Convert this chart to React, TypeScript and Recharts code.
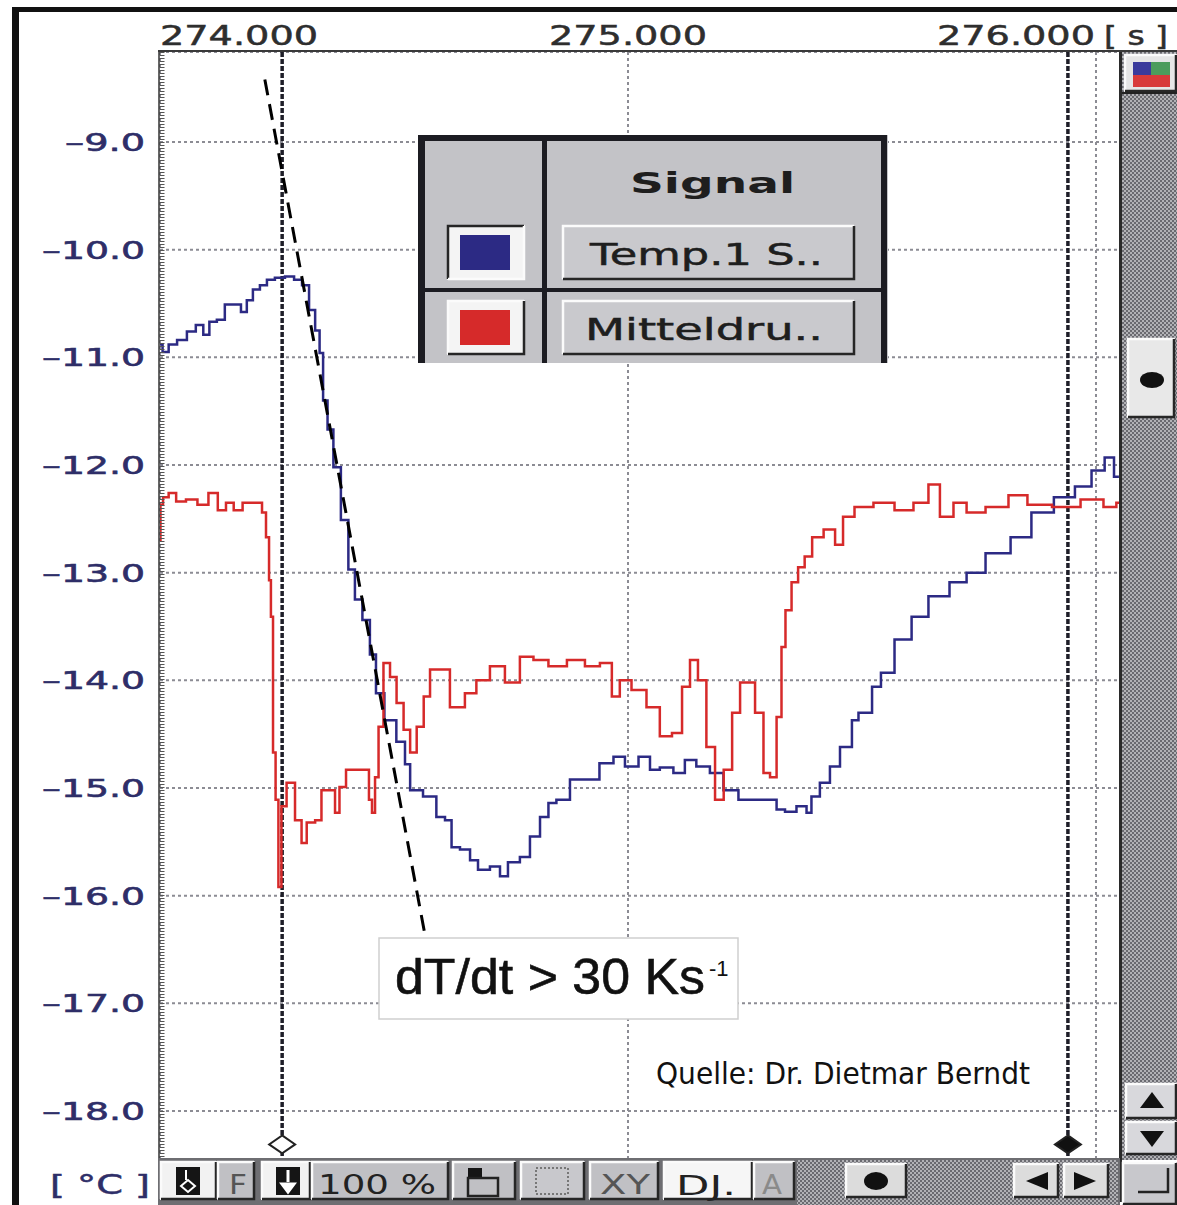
import React from "react";
import {
  LineChart,
  Line,
  XAxis,
  YAxis,
  CartesianGrid,
  ReferenceLine,
  ReferenceDot,
  Legend,
} from "recharts";

// Temp.1 S.. : time [s] / temperature [°C]
const tempTime = [
  274.0, 274.011, 274.026, 274.047, 274.068, 274.085, 274.1, 274.111, 274.132, 274.145,
  274.167, 274.179, 274.192, 274.205, 274.222, 274.235, 274.256, 274.278, 274.295, 274.312,
  274.325, 274.338, 274.344, 274.353, 274.363, 274.378, 274.395, 274.41, 274.423, 274.442,
  274.455, 274.468, 274.491, 274.519, 274.528, 274.541, 274.583, 274.598, 274.62, 274.626,
  274.656, 274.669, 274.69, 274.72, 274.733, 274.754, 274.784, 274.797, 274.827, 274.833,
  274.861, 274.891, 274.923, 274.955, 274.983, 275.004, 275.041, 275.053, 275.083, 275.111,
  275.132, 275.16, 275.19, 275.218, 275.254, 275.31, 275.325, 275.346, 275.374, 275.389,
  275.395, 275.425, 275.438, 275.468, 275.489, 275.496, 275.511, 275.532, 275.549, 275.59,
  275.622, 275.662, 275.712, 275.735, 275.793, 275.842, 275.882, 275.938, 275.972, 276.009,
  276.028, 276.049,
];
const tempValue = [
  -10.88, -10.95, -10.88, -10.84, -10.76, -10.7, -10.79, -10.67, -10.65, -10.51,
  -10.51, -10.58, -10.47, -10.37, -10.33, -10.28, -10.26, -10.25, -10.28, -10.33,
  -10.56, -10.75, -10.96, -11.4, -11.67, -12.02, -12.51, -12.97, -13.25, -13.44,
  -13.76, -14.12, -14.37, -14.57, -14.78, -15.02, -15.08, -15.27, -15.3, -15.55,
  -15.57, -15.67, -15.76, -15.73, -15.82, -15.69, -15.64, -15.45, -15.27, -15.14,
  -15.11, -14.92, -14.92, -14.77, -14.71, -14.8, -14.71, -14.83, -14.81, -14.86,
  -14.74, -14.8, -14.86, -15.02, -15.11, -15.11, -15.2, -15.22, -15.17, -15.23,
  -15.08, -14.95, -14.8, -14.62, -14.37, -14.3, -14.3, -14.06, -13.93, -13.62,
  -13.41, -13.22, -13.09, -13.0, -12.82, -12.67, -12.44, -12.3, -12.2, -12.05,
  -11.93, -12.11,
];

// Mitteldruck, plotted on the same scale
const pressTime = [
  274.0, 274.002, 274.011, 274.026, 274.043, 274.068, 274.092, 274.115, 274.132, 274.15,
  274.165, 274.188, 274.214, 274.222, 274.231, 274.235, 274.239, 274.244, 274.25, 274.256,
  274.263, 274.278, 274.299, 274.306, 274.321, 274.342, 274.348, 274.37, 274.378, 274.389,
  274.406, 274.442, 274.451, 274.455, 274.464, 274.47, 274.485, 274.498, 274.513, 274.528,
  274.541, 274.556, 274.571, 274.583, 274.613, 274.626, 274.641, 274.662, 274.69, 274.72,
  274.754, 274.784, 274.812, 274.848, 274.891, 274.925, 274.955, 274.976, 274.989, 275.026,
  275.053, 275.083, 275.105, 275.126, 275.139, 275.16, 275.175, 275.197, 275.212, 275.233,
  275.246, 275.261, 275.282, 275.297, 275.31, 275.325, 275.331, 275.342, 275.357, 275.37,
  275.385, 275.402, 275.434, 275.451, 275.468, 275.5, 275.549, 275.59, 275.63, 275.654,
  275.679, 275.712, 275.735, 275.793, 275.833, 275.874, 275.938, 275.996, 276.036, 276.051,
];
const pressValue = [
  -12.7, -12.37, -12.3, -12.26, -12.34, -12.32, -12.37, -12.26, -12.42, -12.35,
  -12.42, -12.35, -12.35, -12.44, -12.67, -13.07, -13.41, -14.67, -15.11, -15.92,
  -15.17, -14.95, -15.3, -15.51, -15.32, -15.3, -15.02, -15.02, -15.23, -14.99,
  -14.83, -14.83, -15.11, -15.23, -14.9, -14.43, -13.84, -13.97, -14.21, -14.46,
  -14.67, -14.43, -14.15, -13.9, -13.9, -14.25, -14.25, -14.12, -14.0, -13.87,
  -14.02, -13.78, -13.81, -13.87, -13.81, -13.87, -13.84, -14.15, -14.0, -14.09,
  -14.25, -14.52, -14.49, -14.06, -13.81, -14.0, -14.62, -15.11, -14.83, -14.3,
  -14.02, -14.02, -14.3, -14.86, -14.9, -14.34, -13.69, -13.35, -13.09, -12.95,
  -12.85, -12.67, -12.6, -12.74, -12.48, -12.39, -12.35, -12.42, -12.35, -12.18,
  -12.48, -12.35, -12.44, -12.39, -12.28, -12.37, -12.39, -12.32, -12.39, -12.35,
];

const xTicks = [274, 275, 276];
const yTicks = [-9, -10, -11, -12, -13, -14, -15, -16, -17, -18];
const cursorTimes = [274.261, 275.94];
const slopeLine = [
  { x: 274.224, y: -8.42 },
  { x: 274.566, y: -16.36 },
];
const signalNames = ["Temp.1 S..", "Mitteldru.."];
const signalColors = ["#2c2a84", "#d62a2a"];
const slopeLabel = "dT/dt > 30 Ks";
const sourceLabel = "Quelle: Dr. Dietmar Berndt";

const W = 1177;
const H = 1205;
const PIX = "DejaVu Sans, Verdana, sans-serif";

const tempData = tempTime.map((t, i) => ({ t, v: tempValue[i] }));
const pressData = pressTime.map((t, i) => ({ t, v: pressValue[i] }));

function YTick(props: any) {
  const { y, payload } = props;
  const v = payload.value as number;
  const w = Math.abs(v) >= 10 ? 103 : 80;
  return (
    <text
      x={145 - w}
      y={y + 9}
      textLength={w}
      lengthAdjust="spacingAndGlyphs"
      fontSize={25}
      fill="#2e2e68"
      stroke="#2e2e68"
      strokeWidth={0.6}
      fontFamily={PIX}
    >
      {"\u2013" + Math.abs(v).toFixed(1)}
    </text>
  );
}

function XTick(props: any) {
  const { x, payload } = props;
  const v = payload.value as number;
  const w = 158;
  const first = v === xTicks[0];
  const last = v === xTicks[xTicks.length - 1];
  const start = first ? x : last ? x - w - 1 : x - w / 2;
  const style = { fontSize: 27, fill: "#2e2e2e", stroke: "#2e2e2e", strokeWidth: 0.5, fontFamily: PIX };
  return (
    <g>
      <text x={start} y={45} textLength={w} lengthAdjust="spacingAndGlyphs" {...style}>
        {v.toFixed(3)}
      </text>
      {last && (
        <text x={1104} y={45} textLength={64} lengthAdjust="spacingAndGlyphs" {...style}>
          [ s ]
        </text>
      )}
    </g>
  );
}

function Diamond(props: any) {
  const { cx, cy, fill } = props;
  return (
    <path
      d={`M${cx} ${cy - 9} L${cx + 13} ${cy} L${cx} ${cy + 9} L${cx - 13} ${cy} Z`}
      fill={fill}
      stroke="#222"
      strokeWidth={2}
    />
  );
}

function Bevel({ x, y, w, h, fill = "#c6c6ca", inset = false }: any) {
  const hi = inset ? "#262626" : "#fbfbfb";
  const lo = inset ? "#fbfbfb" : "#262626";
  return (
    <g>
      <rect x={x} y={y} width={w} height={h} fill={fill} />
      <path d={`M${x + 1} ${y + h - 1}V${y + 1}H${x + w - 1}`} fill="none" stroke={hi} strokeWidth={2.5} />
      <path d={`M${x + 1} ${y + h - 1}H${x + w - 1}V${y + 1}`} fill="none" stroke={lo} strokeWidth={2.5} />
    </g>
  );
}

// signal table drawn as the chart legend
function SignalTable() {
  return (
    <svg width={470} height={228} style={{ display: "block" }}>
      <rect width={470} height={228} fill="#c3c3c7" />
      <rect x={0} y={0} width={7} height={228} fill="#1c1c22" />
      <rect x={0} y={0} width={469} height={6} fill="#1c1c22" />
      <rect x={463} y={0} width={6} height={228} fill="#1c1c22" />
      <rect x={124} y={0} width={5} height={228} fill="#1c1c22" />
      <rect x={0} y={153} width={469} height={4} fill="#1c1c22" />
      <text x={212} y={58} textLength={165} lengthAdjust="spacingAndGlyphs" fontSize={28} fontWeight="bold" fill="#1e1e1e" fontFamily={PIX}>
        Signal
      </text>
      {signalNames.map((name, i) => {
        const y0 = i === 0 ? 90 : 165;
        return (
          <g key={name}>
            <Bevel x={29} y={y0} w={78} h={55} fill="#f4f4f4" inset={i === 0} />
            <rect x={42} y={y0 + 10} width={50} height={35} fill={signalColors[i]} />
            <Bevel x={144} y={y0} w={293} h={55} fill="#c9c9cd" />
            <text
              x={i === 0 ? 172 : 167}
              y={y0 + 40}
              textLength={i === 0 ? 233 : 238}
              lengthAdjust="spacingAndGlyphs"
              fontSize={30}
              fill="#1e1e1e"
              stroke="#1e1e1e"
              strokeWidth={0.5}
              fontFamily={PIX}
            >
              {name}
            </text>
          </g>
        );
      })}
    </svg>
  );
}

function Chrome() {
  const txt = { fontFamily: PIX, lengthAdjust: "spacingAndGlyphs" } as any;
  return (
    <svg width={W} height={H} style={{ position: "absolute", left: 0, top: 0, pointerEvents: "none" }}>
      <defs>
        <pattern id="chk" width={4} height={4} patternUnits="userSpaceOnUse">
          <rect width={4} height={4} fill="#b2b2b6" />
          <rect width={2} height={2} fill="#6a6a70" />
          <rect x={2} y={2} width={2} height={2} fill="#6a6a70" />
        </pattern>
      </defs>

      {/* window frame */}
      <rect x={12} y={7} width={1165} height={5} fill="#111" />
      <rect x={12} y={7} width={7} height={1198} fill="#111" />
      <line x1={158} y1={51} x2={1177} y2={51} stroke="#3a3a3a" strokeWidth={2} />

      {/* ruler on the left edge of the plot */}
      <line x1={159} y1={52} x2={159} y2={1160} stroke="#333" strokeWidth={1.5} />
      <line x1={162} y1={52} x2={162} y2={1160} stroke="#555" strokeWidth={5} strokeDasharray="1 2" />

      {/* vertical scroll bar */}
      <rect x={1122} y={52} width={55} height={1108} fill="url(#chk)" />
      <rect x={1119} y={52} width={3} height={1150} fill="#2a2a2a" />
      <Bevel x={1124} y={54} w={53} h={38} fill="#e6e6e6" />
      <rect x={1133} y={62} width={18} height={13} fill="#3a3a9c" />
      <rect x={1151} y={62} width={19} height={13} fill="#4c9c5c" />
      <rect x={1133} y={75} width={37} height={12} fill="#d83a3a" />
      <rect x={1122} y={92} width={55} height={2} fill="#222" />
      <Bevel x={1127} y={338} w={48} h={80} fill="#e8e8e8" />
      <ellipse cx={1152} cy={380} rx={12} ry={8} fill="#111" />
      <Bevel x={1125} y={1083} w={52} h={36} fill="#d8d8dc" />
      <path d="M1140 1108 L1152 1092 L1164 1108 Z" fill="#111" />
      <Bevel x={1125} y={1121} w={52} h={34} fill="#d8d8dc" />
      <path d="M1140 1131 L1164 1131 L1152 1147 Z" fill="#111" />

      {/* bottom tool bar */}
      <rect x={158} y={1158} width={962} height={47} fill="#6e6e72" />
      <Bevel x={160} y={1161} w={57} h={39} fill="#f2f2f2" />
      <Bevel x={217} y={1161} w={38} h={39} fill="#c0c0c4" />
      <rect x={176} y={1167} width={24} height={28} fill="#151515" />
      <path d="M186 1170 V1180 M181 1186 L188 1180 L195 1186 L188 1192 Z" stroke="#fff" strokeWidth={2} fill="none" />
      <text {...txt} x={229} y={1194} textLength={18} fontSize={26} fill="#555">F</text>
      <Bevel x={261} y={1161} w={50} h={39} fill="#f2f2f2" />
      <Bevel x={311} y={1161} w={138} h={39} fill="#c0c0c4" />
      <rect x={276} y={1167} width={24} height={28} fill="#151515" />
      <path d="M288 1170 V1182 M282 1184 L294 1184 L288 1192 Z" stroke="#fff" strokeWidth={3} fill="#fff" />
      <text {...txt} x={318} y={1194} textLength={118} fontSize={26} fill="#222">100 %</text>
      <Bevel x={452} y={1161} w={64} h={39} fill="#c0c0c4" />
      <rect x={468} y={1168} width={14} height={10} fill="#151515" />
      <rect x={468} y={1178} width={30} height={18} fill="none" stroke="#222" strokeWidth={2.5} />
      <Bevel x={520} y={1161} w={65} h={39} fill="#c8c8cc" />
      <rect x={536} y={1168} width={32} height={26} fill="none" stroke="#777" strokeWidth={2} strokeDasharray="2 2" />
      <Bevel x={589} y={1161} w={70} h={39} fill="#c0c0c4" />
      <text {...txt} x={600} y={1194} textLength={50} fontSize={26} fill="#555">XY</text>
      <Bevel x={663} y={1161} w={90} h={39} fill="#f6f6f6" />
      <text {...txt} x={676} y={1195} textLength={60} fontSize={26} fill="#222">DJ.</text>
      <Bevel x={753} y={1161} w={42} h={39} fill="#c0c0c4" />
      <text {...txt} x={762} y={1194} textLength={20} fontSize={26} fill="#8a8a8a">A</text>
      <rect x={797} y={1160} width={321} height={45} fill="url(#chk)" />
      <Bevel x={845} y={1163} w={62} h={35} fill="#dcdcdc" />
      <ellipse cx={876} cy={1181} rx={12} ry={9} fill="#111" />
      <Bevel x={1013} y={1163} w={46} h={35} fill="#dcdcdc" />
      <path d="M1026 1181 L1048 1172 L1048 1190 Z" fill="#111" />
      <Bevel x={1063} y={1163} w={46} h={35} fill="#dcdcdc" />
      <path d="M1096 1181 L1074 1172 L1074 1190 Z" fill="#111" />
      <Bevel x={1122} y={1162} w={55} h={43} fill="#c8c8cc" />
      <path d="M1138 1192 H1168 V1168" fill="none" stroke="#222" strokeWidth={2.5} />

      <text {...txt} x={50} y={1194} textLength={100} fontSize={26} fill="#2e2e68" stroke="#2e2e68" strokeWidth={0.5}>[ °C ]</text>

      {/* slope annotation */}
      <rect x={379} y={938} width={359} height={81} fill="#fff" stroke="#cfcfcf" strokeWidth={1.5} />
      <text x={395} y={994} textLength={310} lengthAdjust="spacingAndGlyphs" fontSize={50} fill="#111" stroke="#111" strokeWidth={0.6} fontFamily="Liberation Sans, Arial, sans-serif">
        {slopeLabel}
      </text>
      <text x={709} y={976} fontSize={22} fill="#111" fontFamily="Liberation Sans, Arial, sans-serif">-1</text>

      <text x={656} y={1084} textLength={374} lengthAdjust="spacingAndGlyphs" fontSize={30} fill="#111" fontFamily={PIX}>
        {sourceLabel}
      </text>
    </svg>
  );
}

export default function App() {
  return (
    <div style={{ position: "absolute", left: 0, top: 0, width: W, height: H, background: "#fff", overflow: "hidden" }}>
      <LineChart width={W} height={H} margin={{ top: 12, right: 57, bottom: 45, left: 0 }}>
        <CartesianGrid stroke="#8c8c94" strokeWidth={2} strokeDasharray="3 3" />
        <XAxis
          type="number"
          dataKey="t"
          orientation="top"
          domain={[274, 276.0513]}
          ticks={xTicks}
          height={40}
          axisLine={false}
          tickLine={false}
          tick={<XTick />}
          allowDataOverflow
        />
        <YAxis
          type="number"
          domain={[-18.455, -8.164]}
          ticks={yTicks}
          width={160}
          axisLine={false}
          tickLine={false}
          tick={<YTick />}
          allowDataOverflow
        />
        {cursorTimes.map((c) => (
          <ReferenceLine key={c} x={c} stroke="#1e1e28" strokeWidth={3.5} strokeDasharray="5 2" />
        ))}
        <ReferenceDot x={cursorTimes[0]} y={-18.31} fill="#fff" shape={Diamond} />
        <ReferenceDot x={cursorTimes[1]} y={-18.31} fill="#111" shape={Diamond} />
        {/* sample-and-hold traces */}
        <Line
          data={tempData}
          dataKey="v"
          name={signalNames[0]}
          type="step"
          stroke={signalColors[0]}
          strokeWidth={2.5}
          dot={false}
          isAnimationActive={false}
        />
        <Line
          data={pressData}
          dataKey="v"
          name={signalNames[1]}
          type="step"
          stroke={signalColors[1]}
          strokeWidth={2.5}
          dot={false}
          isAnimationActive={false}
        />
        <ReferenceLine segment={slopeLine} stroke="#000" strokeWidth={3} strokeDasharray="16 9" />
        <Legend
          layout="horizontal"
          verticalAlign="middle"
          align="center"
          content={() => <SignalTable />}
          wrapperStyle={{ left: 418, top: 135, width: 470, height: 228 }}
        />
      </LineChart>
      <Chrome />
    </div>
  );
}
